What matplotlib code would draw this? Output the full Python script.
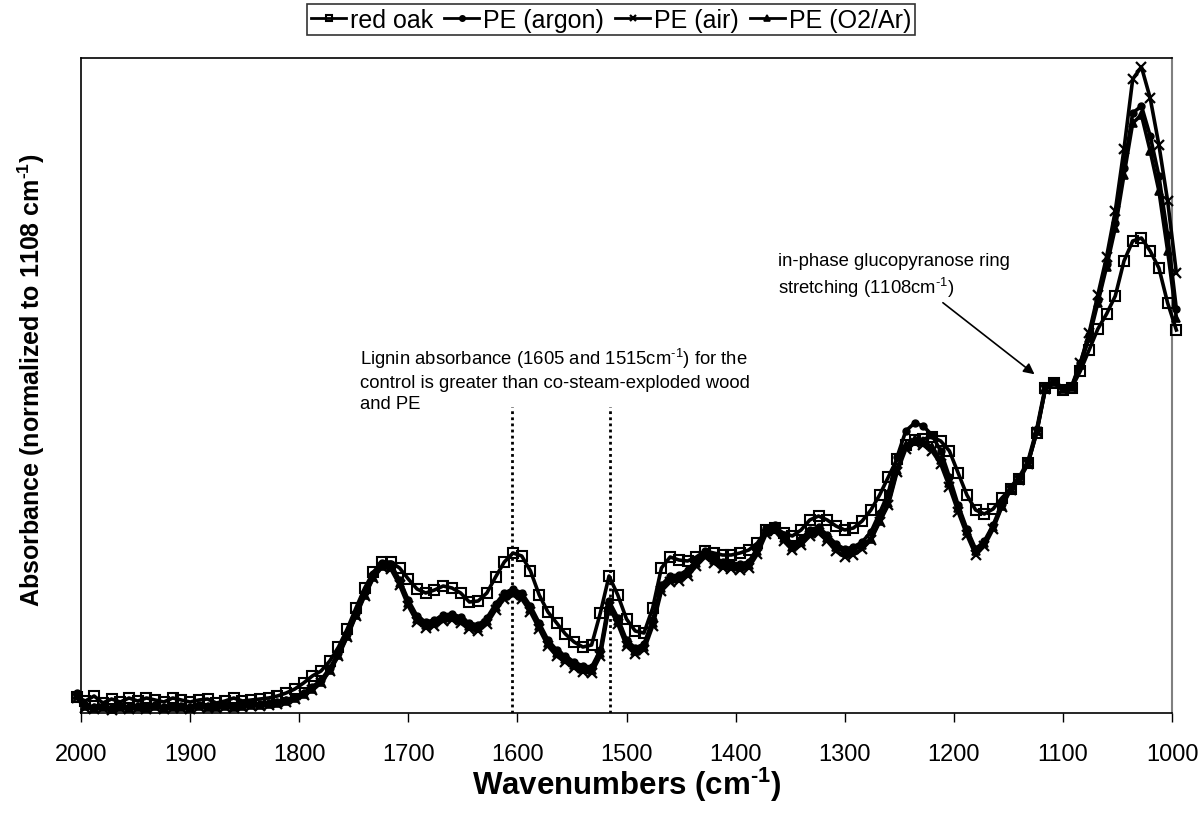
import numpy as np
import matplotlib
matplotlib.use("Agg")
import matplotlib.pyplot as plt

plt.rcParams['font.family'] = ['Liberation Sans', 'DejaVu Sans']
plt.rcParams['mathtext.fontset'] = 'custom'
plt.rcParams['mathtext.rm'] = 'Liberation Sans'
plt.rcParams['mathtext.bf'] = 'Liberation Sans:bold'

# wavenumber grid (cm^-1), 2004 -> 996 every 8 cm^-1 (127 points)
wavenumbers = np.arange(2004, 995, -8)

red_oak = [
    0.016, 0.012, 0.017, 0.010, 0.014, 0.011, 0.015, 0.012, 0.015, 0.013,
    0.011, 0.015, 0.013, 0.011, 0.013, 0.014, 0.010, 0.012, 0.015, 0.012,
    0.013, 0.014, 0.015, 0.017, 0.020, 0.024, 0.030, 0.037, 0.042, 0.052,
    0.066, 0.084, 0.105, 0.125, 0.141, 0.151, 0.151, 0.145, 0.134, 0.124,
    0.120, 0.123, 0.127, 0.125, 0.120, 0.111, 0.112, 0.120, 0.136, 0.151,
    0.160, 0.157, 0.142, 0.118, 0.101, 0.090, 0.079, 0.071, 0.066, 0.068,
    0.100, 0.137, 0.118, 0.094, 0.082, 0.080, 0.105, 0.145, 0.156, 0.153,
    0.152, 0.156, 0.162, 0.160, 0.158, 0.158, 0.160, 0.163, 0.170, 0.183,
    0.185, 0.180, 0.177, 0.183, 0.193, 0.197, 0.193, 0.187, 0.183, 0.185,
    0.192, 0.203, 0.218, 0.236, 0.254, 0.268, 0.273, 0.274, 0.276, 0.272,
    0.262, 0.240, 0.218, 0.203, 0.199, 0.204, 0.215, 0.224, 0.234, 0.250,
    0.280, 0.325, 0.330, 0.323, 0.325, 0.342, 0.363, 0.384, 0.399, 0.417,
    0.452, 0.472, 0.475, 0.462, 0.445, 0.410, 0.383,
]

pe_argon = [
    0.020, 0.008, 0.006, 0.007, 0.005, 0.007, 0.006, 0.007, 0.006, 0.008,
    0.006, 0.007, 0.007, 0.006, 0.008, 0.007, 0.007, 0.008, 0.007, 0.008,
    0.009, 0.009, 0.010, 0.011, 0.013, 0.016, 0.020, 0.026, 0.033, 0.045,
    0.060, 0.079, 0.100, 0.121, 0.139, 0.150, 0.149, 0.133, 0.113, 0.097,
    0.091, 0.093, 0.098, 0.099, 0.096, 0.090, 0.088, 0.095, 0.109, 0.120,
    0.124, 0.120, 0.107, 0.090, 0.073, 0.063, 0.057, 0.051, 0.047, 0.046,
    0.063, 0.112, 0.095, 0.073, 0.065, 0.069, 0.093, 0.128, 0.137, 0.138,
    0.143, 0.153, 0.162, 0.156, 0.151, 0.150, 0.149, 0.151, 0.165, 0.185,
    0.188, 0.178, 0.169, 0.174, 0.183, 0.186, 0.178, 0.169, 0.164, 0.166,
    0.171, 0.181, 0.200, 0.220, 0.256, 0.282, 0.290, 0.287, 0.278, 0.262,
    0.236, 0.208, 0.184, 0.164, 0.172, 0.188, 0.209, 0.226, 0.236, 0.252,
    0.284, 0.327, 0.332, 0.325, 0.327, 0.350, 0.378, 0.413, 0.449, 0.490,
    0.545, 0.600, 0.607, 0.577, 0.537, 0.478, 0.404,
]

pe_air = [
    0.015, 0.005, 0.004, 0.005, 0.003, 0.005, 0.004, 0.005, 0.004, 0.006,
    0.004, 0.005, 0.005, 0.004, 0.006, 0.005, 0.005, 0.006, 0.005, 0.006,
    0.007, 0.007, 0.008, 0.009, 0.011, 0.014, 0.018, 0.023, 0.030, 0.042,
    0.057, 0.076, 0.097, 0.117, 0.135, 0.146, 0.144, 0.128, 0.107, 0.091,
    0.085, 0.087, 0.092, 0.093, 0.090, 0.084, 0.082, 0.089, 0.103, 0.114,
    0.118, 0.114, 0.101, 0.084, 0.067, 0.057, 0.051, 0.045, 0.041, 0.040,
    0.057, 0.106, 0.089, 0.067, 0.059, 0.063, 0.087, 0.122, 0.131, 0.132,
    0.137, 0.147, 0.156, 0.150, 0.145, 0.144, 0.143, 0.145, 0.159, 0.179,
    0.182, 0.172, 0.163, 0.168, 0.177, 0.180, 0.172, 0.162, 0.156, 0.158,
    0.164, 0.173, 0.191, 0.208, 0.241, 0.264, 0.270, 0.268, 0.262, 0.249,
    0.226, 0.201, 0.178, 0.158, 0.167, 0.184, 0.206, 0.223, 0.233, 0.249,
    0.281, 0.324, 0.330, 0.323, 0.325, 0.350, 0.380, 0.418, 0.456, 0.502,
    0.564, 0.634, 0.646, 0.615, 0.568, 0.512, 0.440,
]

pe_o2ar = [
    0.018, 0.007, 0.005, 0.006, 0.004, 0.006, 0.005, 0.006, 0.005, 0.007,
    0.005, 0.006, 0.006, 0.005, 0.007, 0.006, 0.006, 0.007, 0.006, 0.007,
    0.008, 0.008, 0.009, 0.010, 0.012, 0.015, 0.019, 0.024, 0.031, 0.043,
    0.058, 0.077, 0.098, 0.118, 0.136, 0.147, 0.146, 0.130, 0.110, 0.094,
    0.088, 0.090, 0.095, 0.096, 0.093, 0.087, 0.085, 0.092, 0.106, 0.117,
    0.121, 0.117, 0.104, 0.087, 0.070, 0.060, 0.054, 0.048, 0.044, 0.043,
    0.060, 0.109, 0.092, 0.070, 0.062, 0.066, 0.090, 0.125, 0.134, 0.135,
    0.140, 0.150, 0.159, 0.153, 0.148, 0.147, 0.146, 0.148, 0.162, 0.182,
    0.185, 0.175, 0.166, 0.171, 0.180, 0.183, 0.175, 0.166, 0.161, 0.163,
    0.168, 0.174, 0.192, 0.210, 0.243, 0.268, 0.274, 0.272, 0.266, 0.253,
    0.230, 0.205, 0.182, 0.162, 0.170, 0.186, 0.207, 0.224, 0.234, 0.250,
    0.282, 0.325, 0.331, 0.324, 0.326, 0.348, 0.375, 0.410, 0.446, 0.485,
    0.538, 0.590, 0.598, 0.562, 0.522, 0.462, 0.395,
]

labels = ["red oak", "PE (argon)", "PE (air)", "PE (O2/Ar)"]
lignin_lines = [1605, 1515]
xticks = list(range(2000, 999, -100))

HY = '\u2010'  # hyphen used in superscripts

fig = plt.figure(figsize=(12.03, 8.2), dpi=100)
ax = fig.add_axes([81/1203, 1 - 714/820, (1172-81)/1203, (714-59)/820])

styles = [
    dict(marker='s', ms=7.5, mfc='none', mec='black', mew=1.5),
    dict(marker='o', ms=5, mfc='black', mec='black', mew=1.0),
    dict(marker='x', ms=7, mec='black', mew=1.6),
    dict(marker='^', ms=6, mfc='black', mec='black', mew=1.2),
]
series = [red_oak, pe_argon, pe_air, pe_o2ar]
handles = []
for vals, st, lab in zip(series, styles, labels):
    h, = ax.plot(wavenumbers, vals, color='black', lw=2.6, label=lab,
                 clip_on=False, zorder=3, **st)
    handles.append(h)

ax.vlines(lignin_lines, 0, 0.306, colors='black', linestyles=(0, (1, 1.2)), lw=2, zorder=2)

ax.set_xlim(2000, 1000)
ax.set_ylim(0, 0.655)
ax.set_xticks(xticks)
ax.set_xticklabels([str(t) for t in xticks])
ax.set_yticks([])
ax.tick_params(axis='x', direction='out', length=6.5, width=1, pad=15, labelsize=17)

for s in ['left', 'top', 'bottom']:
    ax.spines[s].set_color('black')
    ax.spines[s].set_linewidth(1.2)
ax.spines['right'].set_color('#808080')
ax.spines['right'].set_linewidth(1.5)

ax.set_xlabel('Wavenumbers (cm$^{\\mathbf{' + HY + '1}}$)', fontsize=22.5, fontweight='bold', labelpad=0)
ax.set_ylabel('Absorbance (normalized to 1108 cm$^{\\mathbf{' + HY + '1}}$)', fontsize=18, fontweight='bold')
ax.yaxis.set_label_coords(-0.031, 0.51)

ax.text(1744, 0.367,
        'Lignin absorbance (1605 and 1515cm$^{\\mathregular{' + HY + '1}}$) for the\n'
        'control is greater than co-steam-exploded wood\nand PE',
        fontsize=13.3, va='top', ha='left', linespacing=1.3)

ax.text(1361, 0.461,
        'in-phase glucopyranose ring\nstretching (1108cm$^{\\mathregular{' + HY + '1}}$)',
        fontsize=13.3, va='top', ha='left', linespacing=1.3)
ax.annotate('', xy=(1124, 0.337), xytext=(1212, 0.412),
            arrowprops=dict(arrowstyle='-|>', color='black', lw=1.2, mutation_scale=16))

leg = fig.legend(handles=handles, loc='upper center', bbox_to_anchor=(0.508, 0.994),
                 ncol=4, fontsize=18, frameon=True, fancybox=False, edgecolor='black',
                 borderpad=0.15, handlelength=1.4, handletextpad=0.15, columnspacing=0.45,
                 borderaxespad=0)
leg.get_frame().set_linewidth(1.2)
for lh in leg.legend_handles:
    lh.set_markersize(4)
    lh.set_linewidth(2)

fig.savefig('out.png', dpi=100)
